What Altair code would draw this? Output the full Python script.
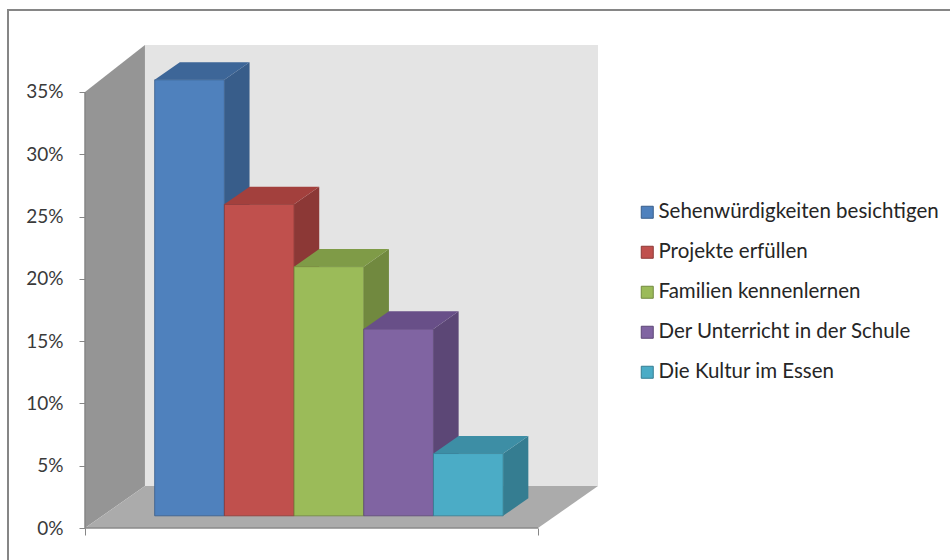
import altair as alt
import pandas as pd

# ---- data ----
categories = [
    "Sehenwürdigkeiten besichtigen",
    "Projekte erfüllen",
    "Familien kennenlernen",
    "Der Unterricht in der Schule",
    "Die Kultur im Essen",
]
values = [35, 25, 20, 15, 5]
y_ticks = [0, 5, 10, 15, 20, 25, 30, 35]

front_colors = ["#4f81bd", "#c0504d", "#9bbb59", "#8064a2", "#4bacc6"]
side_colors = ["#385d8a", "#8c3836", "#71893f", "#5c4776", "#357d91"]
top_colors = ["#3d6698", "#a3403d", "#7f9b47", "#684f88", "#3d8ea5"]

# ---- 3D style constants (in scale units) ----
DX, DY = 0.86, 3.37          # full depth offset of the floor
T0, T1 = 0.29, 0.71          # bar front/back depth fraction
MARGIN = 0.75                # floor margin before first bar
FLOOR_W = 6.5                # front floor width
Y_TOP = 38.77                # back wall top
X_MAX = FLOOR_W + DX

xs = alt.Scale(domain=[0, X_MAX], nice=False, zero=False)
ys = alt.Scale(domain=[0, Y_TOP], nice=False, zero=False)

x_axis = alt.Axis(values=[0, FLOOR_W], labels=False, domain=False, grid=False,
                  ticks=True, tickSize=7, tickColor="#868686", title=None)
y_axis = alt.Axis(values=y_ticks, labelExpr="datum.value + '%'", domain=False,
                  grid=False, tickSize=6, tickColor="#868686", labelPadding=16,
                  labelFont="Lato", labelFontSize=19, labelColor="#3a3a3a",
                  title=None)

# ---- tables built from the arrays ----
front = pd.DataFrame({
    "cat": categories,
    "x": [MARGIN + i + T0 * DX for i in range(5)],
    "x2": [MARGIN + i + 1 + T0 * DX for i in range(5)],
    "y": [T0 * DY] * 5,
    "y2": [v + T0 * DY for v in values],
})

side_rows, top_rows = [], []
for i, (c, v) in enumerate(zip(categories, values)):
    L, R = MARGIN + i, MARGIN + i + 1
    for t in (T0, T1):
        side_rows.append({"cat": c, "col": side_colors[i], "x": R + t * DX,
                          "y": t * DY, "y2": v + t * DY})
        top_rows.append({"cat": c, "col": top_colors[i], "y": v + t * DY,
                         "x": L + t * DX, "x2": R + t * DX})
side = pd.DataFrame(side_rows)
top = pd.DataFrame(top_rows)

floor = pd.DataFrame({"y": [0, DY], "x": [0, DX], "x2": [FLOOR_W, FLOOR_W + DX]})
leftwall = pd.DataFrame({"x": [0, DX], "y": [0, DY], "y2": [35, Y_TOP]})
backwall = pd.DataFrame({"x": [DX], "x2": [X_MAX], "y": [DY], "y2": [Y_TOP]})
edge_df = pd.DataFrame({"x": [0], "x2": [FLOOR_W], "y": [0], "y2": [35]})


def X(f="x"):
    return alt.X(f"{f}:Q", scale=xs, axis=x_axis)


def Y(f="y"):
    return alt.Y(f"{f}:Q", scale=ys, axis=y_axis)


back = alt.Chart(backwall).mark_rect(color="#e4e4e4").encode(
    x=X(), x2="x2:Q", y=Y(), y2="y2:Q")

lw = alt.Chart(leftwall).mark_area(color="#959595", orient="vertical").encode(
    x=X(), y=Y(), y2="y2:Q")

fl = alt.Chart(floor).mark_area(color="#ababab", orient="horizontal").encode(
    y=Y(), x=X(), x2="x2:Q")

floor_edge = alt.Chart(edge_df).mark_rule(color="#8a8a8a", strokeWidth=1.5).encode(
    x=X(), x2="x2:Q", y=Y())
axis_edge = alt.Chart(edge_df).mark_rule(color="#868686", strokeWidth=1.5).encode(
    x=X(), y=Y(), y2="y2:Q")

sides = alt.Chart(side).mark_area(orient="vertical").encode(
    x=X(), y=Y(), y2="y2:Q", detail="cat:N",
    color=alt.Color("col:N", scale=None))

tops = alt.Chart(top).mark_area(orient="horizontal").encode(
    y=Y(), x=X(), x2="x2:Q", detail="cat:N",
    color=alt.Color("col:N", scale=None))

legend = alt.Legend(orient="none", legendX=552, legendY=157, title=None,
                    symbolType="square", symbolSize=144, symbolStrokeWidth=1,
                    labelFont="Lato", labelFontSize=20.5, labelColor="#262626",
                    rowPadding=19, labelOffset=1, labelLimit=400)

fronts = alt.Chart(front).mark_rect(strokeWidth=0.8).encode(
    x=X(), x2="x2:Q", y=Y(), y2="y2:Q",
    fill=alt.Fill("cat:N", sort=categories,
                  scale=alt.Scale(domain=categories, range=front_colors),
                  legend=legend),
    stroke=alt.Stroke("cat:N", sort=categories,
                      scale=alt.Scale(domain=categories, range=side_colors),
                      legend=legend),
)

border = alt.Chart(edge_df).mark_rect(fill="transparent", stroke="#868686",
                                      strokeWidth=2).encode(
    x=alt.value(-77), x2=alt.value(900), y=alt.value(-35), y2=alt.value(540))

chart = alt.layer(back, lw, fl, floor_edge, axis_edge, sides, fronts, tops, border).properties(
    width=513, height=483,
    padding={"left": 85, "top": 45, "right": 352, "bottom": 32},
    autosize=alt.AutoSizeParams(type="none"),
    background="white",
).configure_view(strokeWidth=0)

chart.save("out.html", embed_options={"renderer": "svg", "actions": False})
